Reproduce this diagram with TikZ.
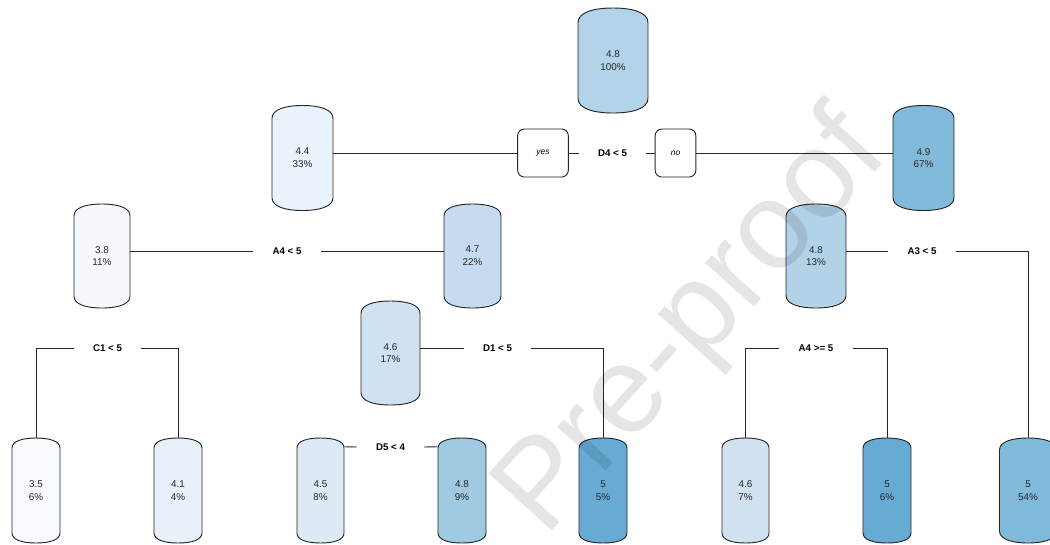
\documentclass[tikz,border=0pt]{standalone}
\usepackage{fontspec}
\setmainfont{Liberation Sans}
\usetikzlibrary{calc}
\definecolor{cRoot}{HTML}{B3D3E8}
\definecolor{cA}{HTML}{EAF2FB}
\definecolor{cB}{HTML}{81BADA}
\definecolor{cC}{HTML}{F5F9FE}
\definecolor{cD}{HTML}{C6DBEF}
\definecolor{cE}{HTML}{B2D2E8}
\definecolor{cF}{HTML}{D0E1F2}
\definecolor{cG}{HTML}{F7FBFF}
\definecolor{cH}{HTML}{E8F1FA}
\definecolor{cI}{HTML}{DDEAF6}
\definecolor{cJ}{HTML}{9FCAE1}
\definecolor{cK}{HTML}{67ABD5}
\definecolor{cL}{HTML}{80B9DA}
\definecolor{lineC}{HTML}{262626}
\newcommand{\barrel}[7]{%
  \pgfmathsetmacro{\bXl}{#2-#4/2}%
  \pgfmathsetmacro{\bXr}{#2+#4/2}%
  \pgfmathsetmacro{\bYt}{#3-#5/2}%
  \pgfmathsetmacro{\bYb}{#3+#5/2}%
  \pgfmathsetmacro{\bBb}{0.21*#4}%
  \pgfmathsetmacro{\bQq}{0.22*#4}%
  \draw[barrelline, fill=#6]
    (\bXl,\bYt+\bBb) .. controls (\bXl,\bYt+0.3*\bBb) and (\bXl+\bQq,\bYt) .. (#2,\bYt)
    .. controls (\bXr-\bQq,\bYt) and (\bXr,\bYt+0.3*\bBb) .. (\bXr,\bYt+\bBb)
    -- (\bXr,\bYb-\bBb) .. controls (\bXr,\bYb-0.3*\bBb) and (\bXr-\bQq,\bYb) .. (#2,\bYb)
    .. controls (\bXl+\bQq,\bYb) and (\bXl,\bYb-0.3*\bBb) .. (\bXl,\bYb-\bBb) -- cycle;
  \node[barreltext, minimum width={#4*0.75pt}, minimum height={#5*0.75pt}] (#1) at (#2,#3) {#7};%
}
\tikzset{
  barrelline/.style={draw=lineC, line width=0.7pt},
  barreltext/.style={draw=none, inner sep=0pt, align=center, text=black!85,
    font=\fontsize{7.4}{9.6}\selectfont},
  splitlabel/.style={inner xsep=14.25pt, inner ysep=2pt, font=\fontsize{7.3}{8}\selectfont\bfseries, text=black},
  yesno/.style={draw=lineC, line width=0.7pt, rounded corners=5pt, fill=white,
    minimum width=#1, minimum height=36pt, inner sep=0pt, font=\fontsize{6.3}{7}\selectfont\itshape},
  conn/.style={draw=lineC, line width=0.7pt},
}
\begin{document}
\begin{tikzpicture}[x=0.75pt, y=-0.75pt]
\useasboundingbox (0,0) rectangle (1050,544);
% internal nodes
\barrel{root}{613}{60.5}{70}{105}{cRoot}{4.8\\100\%}
\barrel{n44}{302.5}{158}{61}{105}{cA}{4.4\\33\%}
\barrel{n49}{923.5}{158}{61}{105}{cB}{4.9\\67\%}
\barrel{n38}{102}{256}{56}{104}{cC}{3.8\\11\%}
\barrel{n47}{472.5}{256}{57}{104}{cD}{4.7\\22\%}
\barrel{n48}{816}{256}{60}{104}{cE}{4.8\\13\%}
\barrel{n46}{390.5}{353}{59}{104}{cF}{4.6\\17\%}
% leaves
\barrel{l35}{36}{490.5}{48}{105}{cG}{3.5\\6\%}
\barrel{l41}{178}{490.5}{48}{105}{cH}{4.1\\4\%}
\barrel{l45}{320.5}{490.5}{47}{105}{cI}{4.5\\8\%}
\barrel{l48}{462}{490.5}{48}{105}{cJ}{4.8\\9\%}
\barrel{l5a}{603}{490.5}{48}{105}{cK}{5\\5\%}
\barrel{l46}{745.5}{490.5}{47}{105}{cF}{4.6\\7\%}
\barrel{l5b}{887}{490.5}{48}{105}{cK}{5\\6\%}
\barrel{l5c}{1028}{490.5}{57}{105}{cL}{5\\54\%}
% yes / no
\node[yesno=38pt] (yes) at (543,153) {yes};
\node[yesno=30.5pt] (no) at (675.5,153) {no};
% split labels
\node[splitlabel] (sD4) at (612.5,153) {D4 < 5};
\node[splitlabel] (sA4) at (287,251) {A4 < 5};
\node[splitlabel] (sA3) at (922,251) {A3 < 5};
\node[splitlabel] (sC1) at (107.5,348) {C1 < 5};
\node[splitlabel] (sD1) at (497.5,348) {D1 < 5};
\node[splitlabel] (sA4b) at (816,348) {A4 >= 5};
\node[splitlabel] (sD5) at (390.5,447) {D5 < 4};
% corner coordinates
\coordinate (kA3) at (1028,251);
\coordinate (kC1a) at (36,348);
\coordinate (kC1b) at (178,348);
\coordinate (kD1) at (603,348);
\coordinate (kA4a) at (745.5,348);
\coordinate (kA4b) at (887,348);
% connectors
\draw[conn] ([yshift=3.75pt]n44.east) -- (yes.west);
\draw[conn] (yes.east) -- (sD4.west);
\draw[conn] (sD4.east) -- (no.west);
\draw[conn] (no.east) -- ([yshift=3.75pt]n49.west);
\draw[conn] ([yshift=3.75pt]n38.east) -- (sA4.west);
\draw[conn] (sA4.east) -- ([yshift=3.75pt]n47.west);
\draw[conn] ([yshift=3.75pt]n48.east) -- (sA3.west);
\draw[conn] (sA3.east) -- (kA3) -- (l5c.north);
\draw[conn] (l35.north) -- (kC1a) -- (sC1.west);
\draw[conn] (sC1.east) -- (kC1b) -- (l41.north);
\draw[conn] ([yshift=3.75pt]n46.east) -- (sD1.west);
\draw[conn] (sD1.east) -- (kD1) -- (l5a.north);
\draw[conn] (l46.north) -- (kA4a) -- (sA4b.west);
\draw[conn] (sA4b.east) -- (kA4b) -- (l5b.north);
\draw[conn] ([yshift=-6.75pt]l45.north east) -- (sD5.west);
\draw[conn] (sD5.east) -- ([yshift=-6.75pt]l48.north west);
% watermark
\node[rotate=48, anchor=base west, inner sep=0pt, text=black, text opacity=0.1,
  font=\fontsize{93}{93}\selectfont] (wm) at (545,539) {Pre-proof};
\end{tikzpicture}
\end{document}
